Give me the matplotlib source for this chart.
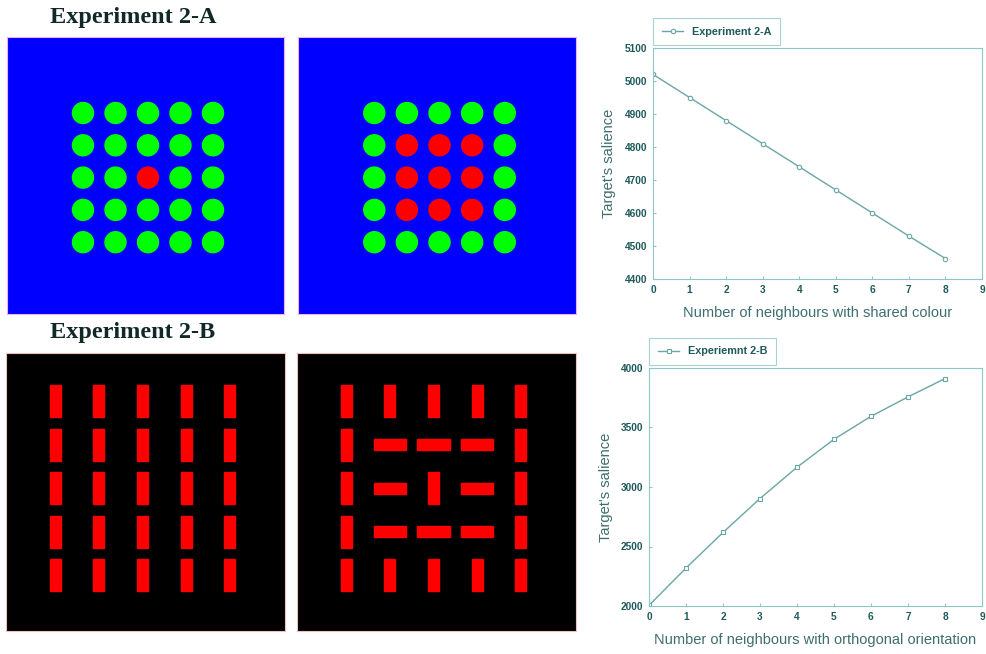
import matplotlib
matplotlib.use("Agg")
import matplotlib.pyplot as plt
from matplotlib.patches import Circle, Rectangle

# salience curves
neighbours = [0, 1, 2, 3, 4, 5, 6, 7, 8]
salience_a = [5020, 4950, 4880, 4810, 4740, 4670, 4600, 4530, 4462]
salience_b = [2005, 2319, 2618, 2903, 3166, 3401, 3594, 3757, 3911]

# stimulus layouts (rows top to bottom)
colours_single = ["GGGGG", "GGGGG", "GGRGG", "GGGGG", "GGGGG"]
colours_block = ["GGGGG", "GRRRG", "GRRRG", "GRRRG", "GGGGG"]
orient_single = ["VVVVV", "VVVVV", "VVVVV", "VVVVV", "VVVVV"]
orient_block = ["VVVVV", "VHHHV", "VHVHV", "VHHHV", "VVVVV"]

W, H = 986, 654
fig = plt.figure(figsize=(W / 100, H / 100), dpi=100)

txt = "#1f5a5a"
lbl = "#3e6e6e"
edge = "#8cc8c8"
line_c = "#6aa6a6"


def px_axes(x0, y0, x1, y1):
    return fig.add_axes([x0 / W, 1 - y1 / H, (x1 - x0) / W, (y1 - y0) / H])


def dot_panel(ax, layout):
    ax.set_facecolor("#0000ff")
    ax.set_xlim(0, 277)
    ax.set_ylim(277, 0)
    for r, row in enumerate(layout):
        for c, ch in enumerate(row):
            col = "#ff0000" if ch == "R" else "#00ff00"
            ax.add_patch(Circle((76 + 32.5 * c, 76 + 32.3 * r), 10.5, color=col))
    ax.set_xticks([])
    ax.set_yticks([])
    for s in ax.spines.values():
        s.set_color("#f0b0f0")
        s.set_linewidth(0.8)


def bar_panel(ax, layout):
    ax.set_facecolor("black")
    ax.set_xlim(0, 278)
    ax.set_ylim(278, 0)
    for r, row in enumerate(layout):
        for c, ch in enumerate(row):
            cx, cy = 49 + 43.5 * c, 48 + 43.6 * r
            w, h = (11, 32) if ch == "V" else (32, 11)
            ax.add_patch(Rectangle((cx - w / 2, cy - h / 2), w, h, color="#ff0000"))
    ax.set_xticks([])
    ax.set_yticks([])
    for s in ax.spines.values():
        s.set_color("#f0c0c0")
        s.set_linewidth(0.8)


dot_panel(px_axes(7, 37, 284, 314), colours_single)
dot_panel(px_axes(298, 37, 576, 314), colours_block)
bar_panel(px_axes(6, 353, 285, 631), orient_single)
bar_panel(px_axes(297, 353, 576, 631), orient_block)

title_font = dict(family="Liberation Serif", weight="bold", size=17.5, color="#102828")
fig.text(50 / W, 1 - 18 / H, "Experiment 2-A", va="center", ha="left", **title_font)
fig.text(50 / W, 1 - 333 / H, "Experiment 2-B", va="center", ha="left", **title_font)


def curve(ax, y, marker, label, ylim, yticks, xlabel):
    ax.plot(neighbours, y, color=line_c, lw=1.0, marker=marker, ms=3.2,
            mfc="white", mec=line_c, mew=0.8, label=label)
    ax.set_xlim(0, 9)
    ax.set_xticks(range(10))
    ax.set_ylim(*ylim)
    ax.set_yticks(yticks)
    for s in ax.spines.values():
        s.set_color(edge)
        s.set_linewidth(0.8)
    ax.tick_params(direction="in", length=2, color=edge, labelcolor=txt,
                   labelsize=7.3, pad=4)
    for t in ax.get_xticklabels() + ax.get_yticklabels():
        t.set_fontweight("bold")
        t.set_family("Liberation Sans")
    ax.set_xlabel(xlabel, family="Liberation Sans", fontsize=10.5, color=lbl, labelpad=8)
    ax.set_ylabel("Target's salience", family="Liberation Sans", fontsize=10.5,
                  color=lbl, labelpad=6)
    leg = ax.legend(loc="lower left", bbox_to_anchor=(0.0, 1.012), fancybox=False,
                    borderaxespad=0.0, borderpad=0.8, handlelength=2.0,
                    prop=dict(family="Liberation Sans", weight="bold", size=7.8))
    leg.get_frame().set_edgecolor(edge)
    leg.get_frame().set_linewidth(0.8)
    for t in leg.get_texts():
        t.set_color(txt)


ax1 = px_axes(653, 48, 982, 279)
curve(ax1, salience_a, "o", "Experiment 2-A", (4400, 5100),
      range(4400, 5101, 100), "Number of neighbours with shared colour")

ax2 = px_axes(649, 368, 982, 606)
curve(ax2, salience_b, "s", "Experiemnt 2-B", (2000, 4000),
      range(2000, 4001, 500), "Number of neighbours with orthogonal orientation")

fig.savefig("out.png", dpi=100)
